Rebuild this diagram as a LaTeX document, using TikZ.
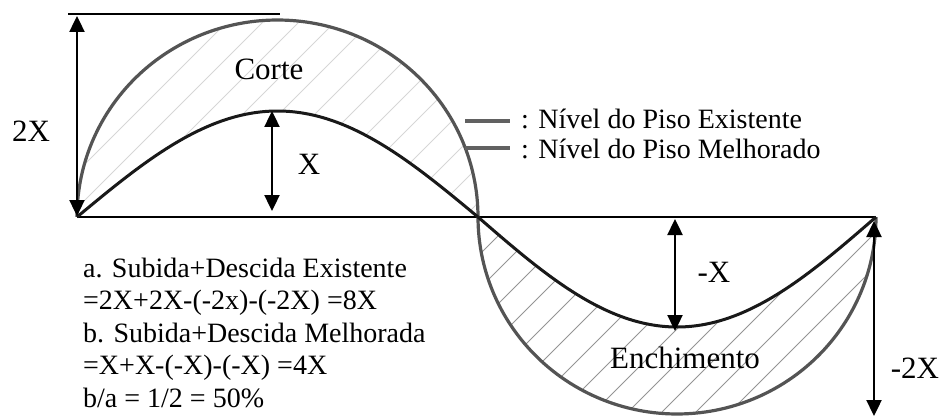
\documentclass[tikz,border=0pt]{standalone}
\usepackage{fontspec}
\setmainfont{Liberation Serif}
\usetikzlibrary{arrows.meta}
\begin{document}
\begin{tikzpicture}[x=1pt,y=-1pt,
  existing/.style={draw=black!67, line width=3.2pt},
  improved/.style={draw=black!90, line width=3pt},
  hatchA/.style={draw=black!16, line width=0.9pt},
  hatchB/.style={draw=black!42, line width=0.9pt},
  dimarrow/.style={line width=2.4pt, {Triangle[width=15pt,length=16pt]}-{Triangle[width=15pt,length=16pt]}},
  lbl/.style={font=\fontsize{31}{36}\selectfont, anchor=base, inner sep=0pt},
  txt/.style={font=\fontsize{28}{32}\selectfont, anchor=base west, inner sep=0pt},
  legline/.style={draw=black!62, line width=4pt}]
\useasboundingbox (0,0) rectangle (940,417);

% hatching of the cut region
\begin{scope}
  \clip plot[domain=180:0, samples=120] ({277.5+200.5*cos(\x)},{217-197*sin(\x)})
     -- plot[domain=478:77, samples=120] (\x,{217-106*sin((\x-77)/401*180)}) -- cycle;
  \foreach \k in {-7,...,13}{
    \pgfmathsetmacro{\c}{285+36*\k}
    \draw[hatchA] (\c,0) -- (\c-320,320);
  }
\end{scope}
% hatching of the fill region
\begin{scope}
  \clip plot[domain=180:360, samples=120] ({677+199*cos(\x)},{217-197*sin(\x)})
     -- plot[domain=876:478, samples=120] (\x,{217+110*sin((\x-478)/398*180)}) -- cycle;
  \foreach \k in {-2,...,14}{
    \pgfmathsetmacro{\c}{1108-34*\k}
    \draw[hatchB] (\c,0) -- (\c-420,420);
  }
\end{scope}

% reference lines
\coordinate (o) at (77,217);
\coordinate (m) at (478,217);
\coordinate (e) at (876,217);
\coordinate (tl) at (68,14);
\coordinate (tr) at (280,14);
\draw[line width=1.8pt] (o) -- (e);
\draw[line width=1.8pt] (tl) -- (tr);

% existing level
\draw[existing] plot[domain=180:0, samples=120] ({277.5+200.5*cos(\x)},{217-197*sin(\x)});
\draw[existing] plot[domain=180:360, samples=120] ({677+199*cos(\x)},{217-197*sin(\x)});
% improved level
\draw[improved] plot[domain=77:478, samples=120] (\x,{217-106*sin((\x-77)/401*180)});
\draw[improved] plot[domain=478:876, samples=120] (\x,{217+110*sin((\x-478)/398*180)});

% dimension arrows
\coordinate (a1t) at (77,16);
\coordinate (a1b) at (77,216);
\coordinate (a2t) at (272,111);
\coordinate (a2b) at (272,211);
\coordinate (a3t) at (675,219);
\coordinate (a3b) at (675,331);
\coordinate (a4t) at (874,221);
\coordinate (a4b) at (874,416);
\draw[dimarrow] (a1t) -- (a1b);
\draw[dimarrow] (a2t) -- (a2b);
\draw[dimarrow] (a3t) -- (a3b);
\draw[dimarrow] (a4t) -- (a4b);

% labels
\node[lbl] (l2x) at (31,142) {2X};
\node[lbl] (lx) at (309,175) {X};
\node[lbl] (lmx) at (714,282) {-X};
\node[lbl] (lm2x) at (915,378) {-2X};
\node[lbl] (corte) at (269,80) {Corte};
\node[lbl] (ench) at (685,368) {Enchimento};

% legend
\coordinate (g1a) at (465,121);
\coordinate (g1b) at (510,121);
\coordinate (g2a) at (465,148);
\coordinate (g2b) at (510,148);
\draw[legline] (g1a) -- (g1b);
\draw[legline, line width=4.6pt] (g2a) -- (g2b);
\node[txt] (leg1) at (521,129) {: Nível do Piso Existente};
\node[txt] (leg2) at (521,159) {: Nível do Piso Melhorado};

% text block
\node[txt] (t1) at (83,277) {a. Subida+Descida Existente};
\node[txt] (t2) at (83,309.5) {=2X+2X-(-2x)-(-2X) =8X};
\node[txt] (t3) at (83,342) {b. Subida+Descida Melhorada};
\node[txt] (t4) at (83,374.5) {=X+X-(-X)-(-X) =4X};
\node[txt] (t5) at (83,407) {b/a = 1/2 = 50\%};
\end{tikzpicture}
\end{document}
